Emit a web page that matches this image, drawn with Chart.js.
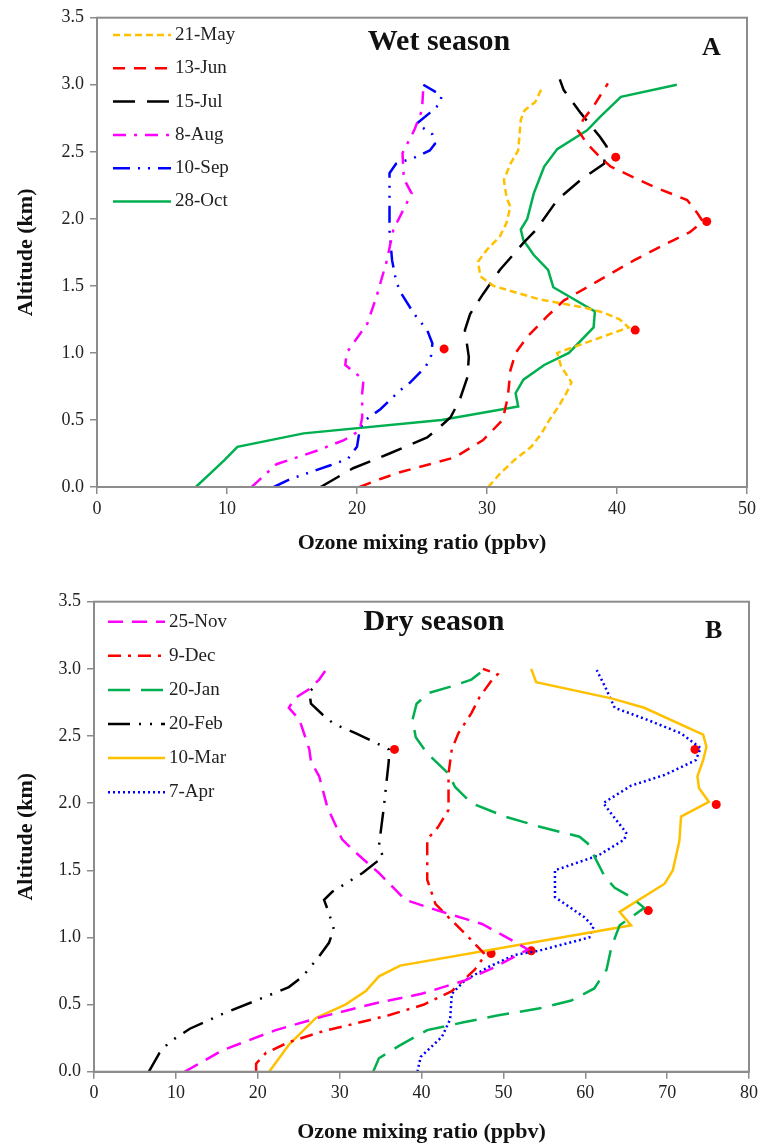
<!DOCTYPE html>
<html>
<head>
<meta charset="utf-8">
<script src="https://cdn.jsdelivr.net/npm/chart.js@4"></script>
<style>
  body { margin: 0; background: #fff; }
  canvas { display: block; }
</style>
</head>
<body>
<canvas id="wetChart" width="762" height="573"></canvas>
<canvas id="dryChart" width="762" height="573"></canvas>
<script>
// axes
const wetXTicks = [0, 10, 20, 30, 40, 50];
const dryXTicks = [0, 10, 20, 30, 40, 50, 60, 70, 80];
const altTicks = [0, 0.5, 1, 1.5, 2, 2.5, 3, 3.5];
const altTickLabels = ['0.0', '0.5', '1.0', '1.5', '2.0', '2.5', '3.0', '3.5'];

// wet season profiles (altitude km / ozone ppbv)
const may21Alt = [0, 0.1, 0.2, 0.3, 0.4, 0.5, 0.6, 0.7, 0.78, 0.9, 1.0, 1.19, 1.25, 1.3, 1.34, 1.4, 1.5, 1.57, 1.68, 1.77, 1.87, 1.97, 2.09, 2.16, 2.29, 2.41, 2.51, 2.74, 2.81, 2.87, 2.97];
const may21O3 = [30.1, 31.0, 32.1, 33.4, 34.2, 34.8, 35.5, 36.1, 36.5, 35.7, 35.4, 40.9, 40.2, 39.0, 37.4, 34.0, 30.5, 29.5, 29.3, 30.0, 31.0, 31.5, 31.8, 31.5, 31.3, 31.8, 32.4, 32.6, 32.9, 33.7, 34.2];

const jun13Alt = [0, 0.06, 0.11, 0.17, 0.22, 0.35, 0.5, 0.67, 0.87, 1.0, 1.12, 1.27, 1.39, 1.49, 1.69, 1.82, 1.9, 1.98, 2.04, 2.14, 2.24, 2.39, 2.46, 2.56, 2.66, 2.74, 2.84, 3.01];
const jun13O3 = [20.2, 21.8, 23.3, 25.6, 27.5, 29.7, 31.2, 31.6, 31.8, 32.2, 33.1, 34.6, 35.9, 37.7, 41.3, 43.9, 45.6, 46.6, 46.2, 45.4, 42.8, 39.5, 38.7, 37.7, 37.0, 37.4, 38.2, 39.3];

const jul15Alt = [0, 0.14, 0.25, 0.37, 0.45, 0.52, 0.65, 0.82, 0.97, 1.17, 1.29, 1.44, 1.62, 1.82, 1.92, 2.14, 2.29, 2.41, 2.54, 2.61, 2.79, 2.96, 3.04];
const jul15O3 = [17.2, 19.7, 22.5, 25.4, 26.4, 27.2, 27.9, 28.5, 28.6, 28.3, 28.7, 29.7, 31.0, 32.8, 33.8, 35.4, 37.2, 39.0, 39.2, 38.7, 37.2, 35.9, 35.6];

const aug8Alt = [0, 0.17, 0.27, 0.35, 0.42, 0.52, 0.7, 0.8, 0.91, 1.0, 1.22, 1.42, 1.69, 1.92, 2.19, 2.3, 2.49, 2.66, 2.81, 2.98];
const aug8O3 = [11.9, 13.8, 16.9, 19.0, 20.2, 20.4, 20.4, 20.5, 19.1, 19.2, 20.8, 21.5, 22.3, 22.8, 24.2, 23.6, 23.5, 24.4, 25.0, 25.1];

const sep10Alt = [0, 0.06, 0.16, 0.21, 0.3, 0.42, 0.49, 0.58, 0.72, 0.78, 0.9, 0.98, 1.07, 1.17, 1.29, 1.46, 1.54, 1.69, 1.91, 2.14, 2.34, 2.41, 2.46, 2.51, 2.56, 2.63, 2.71, 2.79, 2.86, 2.92, 3.0];
const sep10O3 = [13.6, 14.9, 17.9, 19.3, 20.0, 20.2, 20.5, 21.8, 23.3, 24.1, 25.3, 25.7, 25.8, 25.4, 24.4, 23.3, 23.0, 22.7, 22.5, 22.5, 22.5, 23.0, 24.5, 25.6, 26.0, 25.8, 24.6, 25.6, 26.4, 26.5, 25.1];

const oct28Alt = [0, 0.1, 0.2, 0.3, 0.4, 0.5, 0.6, 0.7, 0.8, 0.91, 1.0, 1.19, 1.31, 1.49, 1.62, 1.73, 1.84, 1.92, 2.0, 2.19, 2.39, 2.52, 2.66, 2.76, 2.91, 3.0];
const oct28O3 = [7.6, 8.7, 9.8, 10.8, 15.9, 26.5, 32.4, 32.2, 32.8, 34.4, 36.3, 38.2, 38.3, 35.1, 34.7, 33.6, 32.8, 32.6, 33.1, 33.6, 34.4, 35.4, 37.7, 38.7, 40.3, 44.6];

const wetDotAlt = [1.03, 1.17, 1.98, 2.46];
const wetDotO3 = [26.7, 41.4, 46.9, 39.9];

// dry season profiles
const nov25Alt = [0, 0.16, 0.31, 0.41, 0.51, 0.58, 0.68, 0.78, 0.91, 0.98, 1.1, 1.2, 1.28, 1.48, 1.63, 1.73, 1.97, 2.2, 2.31, 2.4, 2.62, 2.71, 2.78, 2.85, 2.92, 2.99];
const nov25O3 = [11.1, 15.7, 22.2, 27.9, 34.4, 40.0, 45.3, 49.0, 53.0, 51.0, 47.4, 42.0, 38.0, 34.8, 32.0, 30.3, 28.5, 27.5, 26.5, 26.3, 25.1, 23.8, 24.5, 26.3, 27.5, 28.3];

const dec9Alt = [0, 0.06, 0.14, 0.22, 0.3, 0.36, 0.42, 0.5, 0.6, 0.76, 0.87, 1.03, 1.15, 1.25, 1.43, 1.73, 1.82, 1.95, 2.22, 2.4, 2.52, 2.67, 2.79, 2.9, 2.96, 3.0];
const dec9O3 = [19.8, 19.8, 21.0, 23.8, 27.9, 32.0, 36.0, 40.3, 43.7, 46.5, 47.8, 45.3, 43.3, 41.7, 40.7, 40.7, 42.0, 43.3, 43.3, 43.7, 44.5, 46.1, 47.1, 48.4, 49.3, 47.5];

const jan20Alt = [0, 0.1, 0.19, 0.31, 0.37, 0.42, 0.47, 0.53, 0.62, 0.76, 0.93, 1.09, 1.15, 1.22, 1.3, 1.37, 1.45, 1.7, 1.75, 1.82, 1.9, 2.0, 2.12, 2.22, 2.37, 2.49, 2.62, 2.74, 2.82, 2.87, 2.92, 3.0];
const jan20O3 = [34.1, 34.8, 37.2, 40.7, 45.3, 49.4, 54.3, 58.3, 61.1, 62.6, 63.2, 64.2, 65.6, 67.2, 65.6, 63.6, 62.4, 60.3, 59.3, 54.7, 50.2, 46.1, 44.1, 43.3, 40.7, 39.3, 38.9, 39.4, 40.9, 43.7, 46.1, 47.8];

const feb20Alt = [0, 0.14, 0.22, 0.32, 0.43, 0.55, 0.63, 0.71, 0.86, 0.96, 1.06, 1.18, 1.28, 1.34, 1.4, 1.48, 1.6, 1.68, 1.97, 2.2, 2.31, 2.4, 2.45, 2.52, 2.59, 2.66, 2.74, 2.83, 2.88];
const feb20O3 = [6.7, 8.0, 9.2, 11.7, 15.7, 20.6, 23.8, 25.5, 27.5, 28.7, 29.3, 28.7, 28.1, 29.1, 30.7, 32.8, 35.3, 34.8, 35.4, 35.8, 36.0, 36.0, 34.4, 32.0, 29.3, 27.9, 26.5, 26.3, 27.2];

const mar10Alt = [0, 0.2, 0.4, 0.5, 0.6, 0.71, 0.79, 1.09, 1.19, 1.4, 1.5, 1.72, 1.9, 2.01, 2.11, 2.2, 2.32, 2.42, 2.51, 2.71, 2.78, 2.9, 3.0];
const mar10O3 = [21.4, 23.8, 27.1, 30.7, 33.2, 34.8, 37.4, 65.6, 64.2, 69.7, 70.7, 71.5, 71.7, 75.1, 73.9, 73.7, 74.4, 74.8, 74.4, 67.2, 63.2, 54.0, 53.4];

const apr7Alt = [0, 0.11, 0.26, 0.39, 0.58, 0.68, 0.78, 0.87, 0.9, 1.0, 1.08, 1.15, 1.3, 1.5, 1.61, 1.73, 1.78, 1.92, 2.0, 2.13, 2.21, 2.32, 2.41, 2.52, 2.62, 2.71, 2.87, 2.99];
const apr7O3 = [39.5, 39.9, 42.5, 43.5, 43.7, 45.3, 48.2, 51.4, 54.3, 60.5, 61.0, 59.9, 56.3, 56.3, 61.6, 64.8, 65.0, 63.2, 62.2, 65.6, 69.7, 73.5, 74.1, 71.7, 67.6, 63.6, 62.4, 61.4];

const dryDotAlt = [0.88, 0.90, 1.20, 1.99, 2.40, 2.40];
const dryDotO3 = [48.5, 53.4, 67.7, 76.0, 73.4, 36.7];

const serif = '"Liberation Serif", "Times New Roman", serif';
const axisGray = '#8c8c8c';

function toPoints(alt, o3) {
    return alt.map((a, i) => ({x: o3[i], y: a}));
}

function profile(label, alt, o3, color, dash) {
    return {
        label: label,
        data: toPoints(alt, o3),
        showLine: true,
        borderColor: color,
        backgroundColor: color,
        borderWidth: 2.5,
        borderDash: dash,
        pointRadius: 0,
        fill: false,
        tension: 0
    };
}

function dots(alt, o3) {
    return {
        label: '',
        data: toPoints(alt, o3),
        showLine: false,
        pointRadius: 4.5,
        pointBackgroundColor: '#ff0000',
        pointBorderColor: '#ff0000',
        pointBorderWidth: 0
    };
}

// frame, title, panel letter and the legend inside the plot
const panelDecor = {
    id: 'panelDecor',
    afterDraw(chart, args, opts) {
        const ctx = chart.ctx;
        const a = chart.chartArea;
        ctx.save();
        ctx.strokeStyle = axisGray;
        ctx.lineWidth = 2;
        ctx.strokeRect(a.left, a.top, a.right - a.left, a.bottom - a.top);

        ctx.fillStyle = '#111';
        ctx.textBaseline = 'alphabetic';
        ctx.font = 'bold 30px ' + serif;
        ctx.textAlign = 'center';
        ctx.fillText(opts.title, a.left + opts.titleDx, a.top + opts.titleDy);
        ctx.font = 'bold 26px ' + serif;
        ctx.textAlign = 'left';
        ctx.fillText(opts.letter, a.right - opts.letterDx, a.top + opts.letterDy);

        ctx.font = '19px ' + serif;
        ctx.textBaseline = 'middle';
        let row = 0;
        chart.data.datasets.forEach(ds => {
            if (!ds.label) return;
            const y = a.top + opts.legendTop + row * opts.legendGap;
            const x0 = a.left + opts.legendX;
            ctx.beginPath();
            ctx.setLineDash(ds.borderDash || []);
            ctx.strokeStyle = ds.borderColor;
            ctx.lineWidth = ds.borderWidth;
            ctx.moveTo(x0, y);
            ctx.lineTo(x0 + opts.sampleLen, y);
            ctx.stroke();
            ctx.setLineDash([]);
            ctx.fillStyle = '#222';
            ctx.fillText(ds.label, x0 + opts.sampleLen + 4, y);
            row++;
        });
        ctx.restore();
    }
};

function makeOptions(xTicks, xMax, leftWidth, xHeight, padTop, padRight, xTitlePad, decor) {
    return {
        responsive: false,
        animation: false,
        layout: { padding: { top: padTop, right: padRight, left: 0, bottom: 0 } },
        scales: {
            x: {
                type: 'linear',
                min: 0,
                max: xMax,
                afterBuildTicks: s => { s.ticks = xTicks.map(v => ({value: v})); },
                afterFit: s => { s.height = xHeight; },
                grid: { drawOnChartArea: false, drawTicks: true, tickLength: 7, color: axisGray, lineWidth: 1.5 },
                border: { display: true, color: axisGray, width: 2 },
                ticks: { color: '#222', font: { family: serif, size: 18 }, padding: 4, maxRotation: 0 },
                title: {
                    display: true,
                    text: 'Ozone mixing ratio (ppbv)',
                    color: '#111',
                    font: { family: serif, size: 22, weight: 'bold' },
                    padding: { top: 0, bottom: xTitlePad }
                }
            },
            y: {
                type: 'linear',
                min: 0,
                max: 3.5,
                afterBuildTicks: s => { s.ticks = altTicks.map(v => ({value: v})); },
                afterFit: s => { s.width = leftWidth; },
                grid: { drawOnChartArea: false, drawTicks: true, tickLength: 7, color: axisGray, lineWidth: 1.5 },
                border: { display: true, color: axisGray, width: 2 },
                ticks: {
                    color: '#222',
                    font: { family: serif, size: 18 },
                    padding: 6,
                    callback: (v) => altTickLabels[altTicks.indexOf(v)]
                },
                title: {
                    display: true,
                    text: 'Altitude (km)',
                    color: '#111',
                    font: { family: serif, size: 22, weight: 'bold' },
                    padding: { top: 13, bottom: 0 }
                }
            }
        },
        plugins: {
            legend: { display: false },
            tooltip: { enabled: false },
            panelDecor: decor
        }
    };
}

new Chart(document.getElementById('wetChart'), {
    type: 'scatter',
    data: {
        datasets: [
            profile('21-May', may21Alt, may21O3, '#ffc000', [7, 4]),
            profile('13-Jun', jun13Alt, jun13O3, '#ff0000', [12, 9]),
            profile('15-Jul', jul15Alt, jul15O3, '#000000', [22, 12]),
            profile('8-Aug', aug8Alt, aug8O3, '#ff00ff', [13, 8, 3, 8]),
            profile('10-Sep', sep10Alt, sep10O3, '#0000ff', [17, 8, 2, 8, 2, 8]),
            profile('28-Oct', oct28Alt, oct28O3, '#00b050', []),
            dots(wetDotAlt, wetDotO3)
        ]
    },
    options: makeOptions(wetXTicks, 50, 97, 86, 17.7, 15, 16, {
        title: 'Wet season', titleDx: 342, titleDy: 32,
        letter: 'A', letterDx: 45, letterDy: 37,
        legendX: 16, sampleLen: 58, legendTop: 17.3, legendGap: 33.3
    }),
    plugins: [panelDecor]
});

new Chart(document.getElementById('dryChart'), {
    type: 'scatter',
    data: {
        datasets: [
            profile('25-Nov', nov25Alt, nov25O3, '#ff00ff', [15, 9]),
            profile('9-Dec', dec9Alt, dec9O3, '#ff0000', [13, 7, 3, 7]),
            profile('20-Jan', jan20Alt, jan20O3, '#00b050', [22, 11]),
            profile('20-Feb', feb20Alt, feb20O3, '#000000', [22, 9, 2, 9, 2, 9]),
            profile('10-Mar', mar10Alt, mar10O3, '#ffc000', []),
            profile('7-Apr', apr7Alt, apr7O3, '#0000ff', [2, 3]),
            dots(dryDotAlt, dryDotO3)
        ]
    },
    options: makeOptions(dryXTicks, 80, 94, 74.3, 28.7, 10, 0, {
        title: 'Dry season', titleDx: 340, titleDy: 28,
        letter: 'B', letterDx: 44, letterDy: 36,
        legendX: 14, sampleLen: 57, legendTop: 20, legendGap: 34.1
    }),
    plugins: [panelDecor]
});
</script>
</body>
</html>
